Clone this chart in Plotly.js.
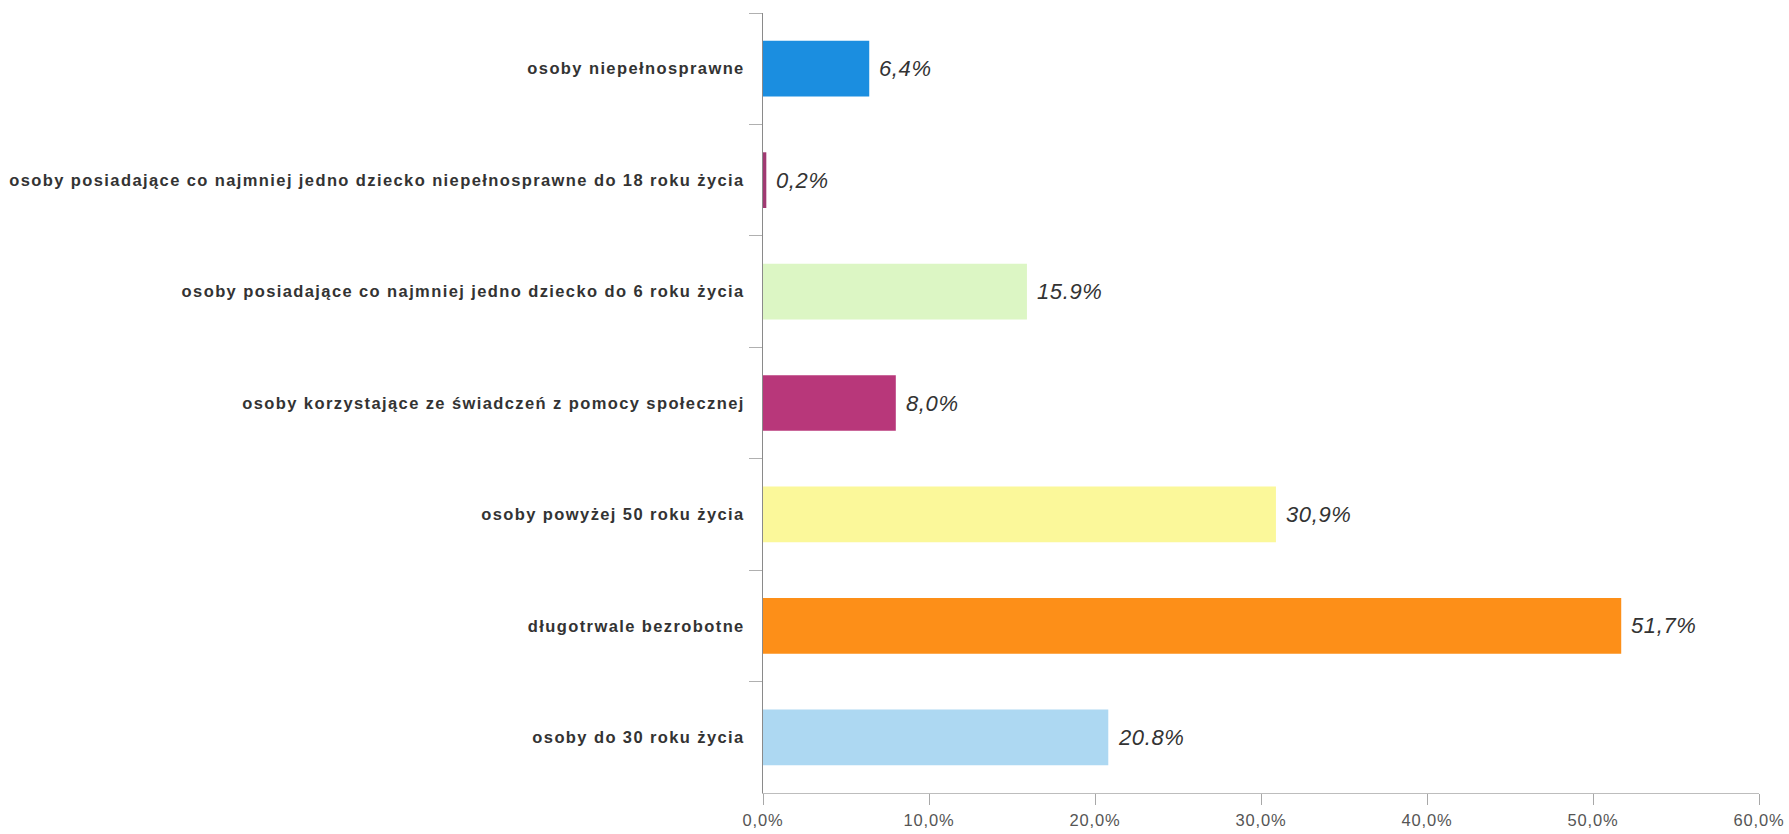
<!DOCTYPE html>
<html>
<head>
<meta charset="utf-8">
<script src="https://cdn.plot.ly/plotly-3.0.1.min.js"></script>
<style>
html,body{margin:0;padding:0;background:#fff;}
#chart{width:1789px;height:834px;}
.ytick text{letter-spacing:1.4px;}
.xtick text{letter-spacing:0.8px;}
.annotation-text{letter-spacing:0.6px;}
</style>
</head>
<body>
<div id="chart"></div>
<script>
// Data (top to bottom)
const categories = [
  "osoby niepełnosprawne",
  "osoby posiadające co najmniej jedno dziecko niepełnosprawne do 18 roku życia",
  "osoby posiadające co najmniej jedno dziecko do 6 roku życia",
  "osoby korzystające ze świadczeń z pomocy społecznej",
  "osoby powyżej 50 roku życia",
  "długotrwale bezrobotne",
  "osoby do 30 roku życia"
];
const values = [6.4, 0.2, 15.9, 8.0, 30.9, 51.7, 20.8];
const valueLabels = ["6,4%", "0,2%", "15.9%", "8,0%", "30,9%", "51,7%", "20.8%"];
const barColors = ["#1b8ee0", "#a03a72", "#dcf6c4", "#b8377a", "#fbf89a", "#fd8f18", "#add8f2"];
const xTickVals = [0, 10, 20, 30, 40, 50, 60];
const xTickText = ["0,0%", "10,0%", "20,0%", "30,0%", "40,0%", "50,0%", "60,0%"];

const trace = {
  type: "bar",
  orientation: "h",
  x: values,
  y: categories,
  marker: {color: barColors, line: {width: 0}},
  hoverinfo: "none",
  showlegend: false
};

const annotations = values.map((v, i) => ({
  x: v, y: categories[i], xref: "x", yref: "y",
  text: valueLabels[i], showarrow: false,
  xanchor: "left", yanchor: "middle", xshift: 8,
  font: {family: "Liberation Sans, Arial, sans-serif", size: 22, color: "#333333", style: "italic"}
}));

const layout = {
  width: 1789, height: 834,
  margin: {l: 763, r: 30, t: 13, b: 41},
  paper_bgcolor: "#ffffff", plot_bgcolor: "#ffffff",
  bargap: 0.5,
  xaxis: {
    range: [0, 60], tickvals: xTickVals, ticktext: xTickText,
    showgrid: false, zeroline: false,
    showline: true, linecolor: "#bdbdbd", linewidth: 1,
    ticks: "outside", ticklen: 11, tickcolor: "#a8a8a8", tickwidth: 1,
    ticklabelstandoff: 1,
    tickfont: {family: "Liberation Sans, Arial, sans-serif", size: 16.5, color: "#555555"},
    fixedrange: true
  },
  xaxis2: {
    overlaying: "x", anchor: "y", side: "bottom",
    range: [0, 60], tickvals: xTickVals,
    showticklabels: false, showgrid: false, zeroline: false, showline: false,
    ticks: "inside", ticklen: 10, tickcolor: "#a8a8a8", tickwidth: 1
  },
  yaxis: {
    type: "category", categoryorder: "array", categoryarray: categories,
    autorange: "reversed",
    showgrid: false, zeroline: false,
    showline: true, linecolor: "#8a8a8a", linewidth: 1,
    ticks: "outside", tickson: "boundaries", ticklen: 13, tickcolor: "#b0b0b0", tickwidth: 1,
    ticklabelstandoff: 14,
    tickfont: {family: "Liberation Sans, Arial, sans-serif", size: 16.5, color: "#333333", weight: "bold"},
    fixedrange: true
  },
  yaxis2: {
    overlaying: "y", anchor: "x", side: "left",
    type: "linear", range: [6.5, -0.5], tick0: -0.5, dtick: 1,
    showticklabels: false, showgrid: false, zeroline: false, showline: false,
    ticks: "inside", ticklen: 10, tickcolor: "#b0b0b0", tickwidth: 1
  },
  annotations: annotations
};

Plotly.newPlot("chart", [trace], layout, {displayModeBar: false, staticPlot: true});
</script>
</body>
</html>
